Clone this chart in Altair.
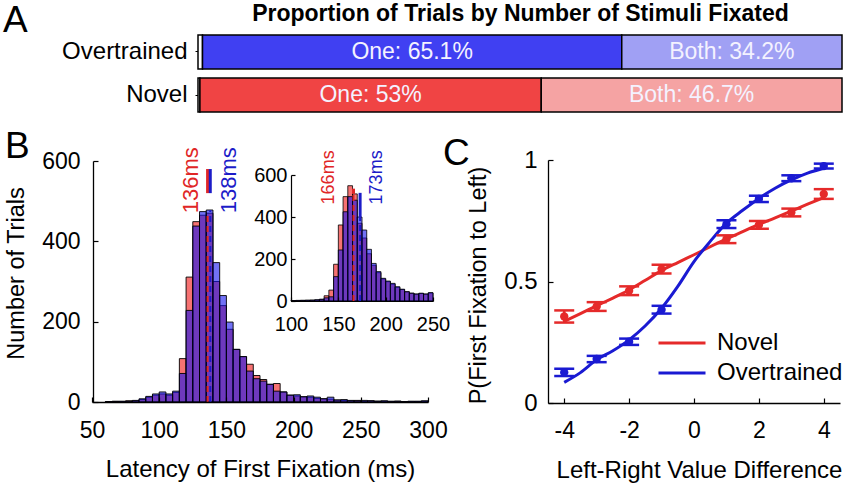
import altair as alt
import pandas as pd

W, H = 843, 486
FONT = "Liberation Sans"
RED = "#e02626"
BLUE = "#1c1cc8"

# ---------------- Panel A: proportions ----------------
groups = ["Overtrained", "Novel"]
segments = ["None", "One", "Both"]
overtrained_pct = [0.7, 65.1, 34.2]
novel_pct = [0.3, 53.0, 46.7]
overtrained_text = ["", "One: 65.1%", "Both: 34.2%"]
novel_text = ["", "One: 53%", "Both: 46.7%"]
seg_colors = ["#ffffff", "#4040f2", "#a0a0f4", "#ffffff", "#f04444", "#f5a3a3"]

# ---------------- Panel B: latency histograms ----------------
main_bin_starts = list(range(60, 300, 5))
novel_main = [1, 2, 1, 3, 3, 6, 12, 17, 20, 17, 24, 108, 311, 449, 465, 470, 300, 240,
              181, 131, 113, 94, 66, 56, 44, 46, 25, 17, 15, 13, 12, 9, 8, 7, 5, 4, 3,
              4, 2, 3, 2, 2, 1, 2, 1, 1, 1, 2]
overtrained_main = [1, 1, 2, 2, 4, 8, 14, 20, 25, 20, 27, 71, 228, 438, 474, 478, 347,
                    265, 199, 131, 113, 77, 58, 52, 44, 27, 25, 17, 18, 13, 15, 12, 8,
                    12, 5, 6, 4, 3, 4, 3, 2, 3, 2, 2, 1, 2, 2, 3]
inset_bin_starts = list(range(100, 250, 5))
novel_inset = [2, 2, 3, 3, 4, 5, 8, 25, 52, 175, 362, 497, 549, 510, 370, 300, 225, 170,
               135, 105, 92, 80, 65, 55, 44, 37, 33, 36, 33, 38]
overtrained_inset = [2, 3, 3, 4, 4, 6, 8, 15, 20, 116, 243, 425, 497, 480, 400, 338, 246,
                     179, 140, 108, 95, 84, 68, 56, 44, 37, 33, 37, 33, 40]
conditions = ["Novel", "Overtrained"]
main_medians = [136, 138]
main_marker_lo = [520, 520]
main_marker_hi = [580, 580]
inset_medians = [166, 173]
inset_marker_lo = [510, 400]
inset_marker_hi = [535, 515]

# ---------------- Panel C: choice curves ----------------
value_diff = [-4, -3, -2, -1, 1, 2, 3, 4]
novel_p = [0.356, 0.397, 0.462, 0.551, 0.674, 0.733, 0.784, 0.860]
novel_se = [0.025, 0.018, 0.018, 0.018, 0.016, 0.016, 0.016, 0.020]
overtrained_p = [0.126, 0.181, 0.252, 0.384, 0.736, 0.840, 0.925, 0.975]
overtrained_se = [0.015, 0.013, 0.013, 0.016, 0.016, 0.013, 0.012, 0.010]
fit_x = [-4, -3.5, -3, -2.5, -2, -1.5, -1, -0.5, 0, 0.5, 1, 1.5, 2, 2.5, 3, 3.5, 4]
novel_fit = [0.336, 0.368, 0.400, 0.432, 0.465, 0.505, 0.545, 0.578, 0.610, 0.643,
             0.675, 0.705, 0.735, 0.762, 0.790, 0.818, 0.845]
overtrained_fit = [0.085, 0.125, 0.178, 0.215, 0.260, 0.318, 0.390, 0.480, 0.582, 0.665,
                   0.740, 0.793, 0.842, 0.884, 0.918, 0.946, 0.966]

AX = dict(grid=False, labelFont=FONT, labelColor="black", titleFont=FONT, titleColor="black",
          titleFontWeight="normal", labelFlush=False, labelOverlap=False,
          domainColor="black", tickColor="black", zindex=1)


def tick_axis(orient, offset, values, size):
    return alt.Axis(orient=orient, offset=offset, values=values, labels=False, domain=False,
                    ticks=True, tickSize=size, tickWidth=1.2, tickColor="black", title=None,
                    grid=False, zindex=1)


# ---------- Panel A ----------
rowsA = []
for g, pcts, texts in [("Overtrained", overtrained_pct, overtrained_text),
                       ("Novel", novel_pct, novel_text)]:
    start = 0.0
    for s, p, t in zip(segments, pcts, texts):
        rowsA.append(dict(group=g, seg=f"{g} {s}", start=start, end=start + p,
                          mid=start + p / 2, text=t))
        start += p
dfA = pd.DataFrame(rowsA)
seg_domain = [f"{g} {s}" for g in groups for s in segments]

sxA = alt.Scale(domain=[0, 100], range=[198, 842], nice=False, zero=False)
syA = alt.Scale(domain=groups, range=[35, 112], paddingInner=0.21, paddingOuter=0)
barsA = alt.Chart(dfA).mark_bar(stroke="black", strokeWidth=1.5, opacity=1).encode(
    x=alt.X("start:Q", scale=sxA, axis=alt.Axis(
        orient="top", offset=-35, title="Proportion of Trials by Number of Stimuli Fixated",
        titleFont=FONT, titleFontSize=23, titleFontWeight="bold", titleColor="black",
        titlePadding=10, labels=False, ticks=False, domain=False, grid=False)),
    x2="end:Q",
    y=alt.Y("group:N", scale=syA, axis=alt.Axis(
        orient="left", offset=-198, title=None, labelFont=FONT, labelFontSize=24,
        labelColor="black", labelPadding=8, ticks=True, tickSize=3, tickColor="black",
        domain=False, grid=False)),
    color=alt.Color("seg:N", scale=alt.Scale(domain=seg_domain, range=seg_colors), legend=None),
)
textA = alt.Chart(dfA).mark_text(font=FONT, fontSize=23, color="#f4f2ff").encode(
    x=alt.X("mid:Q", scale=sxA, axis=None),
    y=alt.Y("group:N", scale=syA, axis=None),
    text="text:N",
)
panelA = alt.layer(barsA, textA).resolve_axis(x="independent", y="independent")


# ---------- histogram helper ----------
def hist_frame(starts, counts):
    return pd.DataFrame({"start": starts, "end": [s + 5 for s in starts], "count": counts,
                         "base": [0] * len(starts)})


def med_frame(meds, starts, count_lists, lo, hi, label_y):
    tops = [cnts[starts.index(m // 5 * 5)] for m, cnts in zip(meds, count_lists)]
    return pd.DataFrame({"ms": meds, "cond": conditions, "top": tops, "base": [0, 0],
                         "lo": lo, "hi": hi, "label": [f"{m}ms" for m in meds],
                         "label_y": [label_y, label_y]})


colB = alt.Scale(domain=conditions, range=[RED, BLUE])
txtB = alt.Scale(domain=conditions, range=["#dc2b2b", "#2424b0"])


def histogram_panel(starts, nov, ovr, sx, sy, main_x_axis, main_y_axis, tx_axis, ty_axis,
                    medf, text_size, dys, stroke_w):
    red = alt.Chart(hist_frame(starts, nov)).mark_bar(
        color="#f01414", fillOpacity=0.6, stroke="black", strokeWidth=stroke_w).encode(
        x=alt.X("start:Q", scale=sx, axis=main_x_axis), x2="end:Q",
        y=alt.Y("count:Q", scale=sy, axis=main_y_axis), y2="base:Q")
    blue = alt.Chart(hist_frame(starts, ovr)).mark_bar(
        color="#1414f0", fillOpacity=0.6, stroke="black", strokeWidth=stroke_w).encode(
        x=alt.X("start:Q", scale=sx, axis=tx_axis), x2="end:Q",
        y=alt.Y("count:Q", scale=sy, axis=ty_axis), y2="base:Q")
    dashed = alt.Chart(medf).mark_rule(strokeDash=[6, 4], strokeWidth=2).encode(
        x=alt.X("ms:Q", scale=sx, axis=None),
        y=alt.Y("base:Q", scale=sy, axis=None), y2="top:Q",
        color=alt.Color("cond:N", scale=colB, legend=None))
    solid = alt.Chart(medf).mark_rule(strokeWidth=3).encode(
        x=alt.X("ms:Q", scale=sx, axis=None),
        y=alt.Y("lo:Q", scale=sy, axis=None), y2="hi:Q",
        color=alt.Color("cond:N", scale=colB, legend=None))
    texts = []
    for cond, dy in zip(conditions, dys):
        texts.append(alt.Chart(medf).transform_filter(alt.datum.cond == cond).mark_text(
            angle=270, align="left", baseline="middle", dy=dy, font=FONT,
            fontSize=text_size).encode(
            x=alt.X("ms:Q", scale=sx, axis=None),
            y=alt.Y("label_y:Q", scale=sy, axis=None),
            text="label:N",
            color=alt.Color("cond:N", scale=txtB, legend=None)))
    return alt.layer(red, blue, dashed, solid, *texts).resolve_axis(x="independent", y="independent")


# ---------- Panel B main ----------
sxB = alt.Scale(domain=[50, 300], range=[92, 428], nice=False, zero=False)
syB = alt.Scale(domain=[0, 600], range=[402, 161], nice=False, zero=True)
bx_vals = [50, 100, 150, 200, 250, 300]
by_vals = [0, 200, 400, 600]
bx_axis = alt.Axis(orient="bottom", offset=402 - H, values=bx_vals, ticks=False, tickSize=0,
                   labelFontSize=23, labelPadding=35, labelBaseline="alphabetic", domainWidth=1.3,
                   title="Latency of First Fixation (ms)", titleFontSize=24, titleX=260, titleY=74,
                   titleBaseline="alphabetic", titleAlign="center", **AX)
by_axis = alt.Axis(orient="left", offset=-93, values=by_vals, ticks=False, tickSize=0,
                   labelFontSize=23, labelPadding=13, domainWidth=1.3, title="Number of Trials",
                   titleFontSize=23.5, titleAngle=270, titleX=23 - 93, titleY=273,
                   titleBaseline="alphabetic", titleAlign="center", **AX)
medB = med_frame(main_medians, main_bin_starts, [novel_main, overtrained_main],
                 main_marker_lo, main_marker_hi, 470)
panelB = histogram_panel(main_bin_starts, novel_main, overtrained_main, sxB, syB, bx_axis, by_axis,
                         tick_axis("top", -402, bx_vals, 5), tick_axis("right", 93 - W, by_vals, 5),
                         medB, 22, [-17, 19], 0.9)

# ---------- Panel B inset ----------
sxI = alt.Scale(domain=[100, 250], range=[291, 433], nice=False, zero=False)
syI = alt.Scale(domain=[0, 600], range=[301, 175], nice=False, zero=True)
ix_vals = [100, 150, 200, 250]
iy_vals = [0, 200, 400, 600]
ix_axis = alt.Axis(orient="bottom", offset=301 - H, values=ix_vals, ticks=False, tickSize=0,
                   labelFontSize=20, labelPadding=29, labelBaseline="alphabetic", domainWidth=1.2,
                   title=None, **AX)
iy_axis = alt.Axis(orient="left", offset=-291, values=iy_vals, ticks=False, tickSize=0,
                   labelFontSize=20, labelPadding=4, domainWidth=1.2, title=None, **AX)
medI = med_frame(inset_medians, inset_bin_starts, [novel_inset, overtrained_inset],
                 inset_marker_lo, inset_marker_hi, 460)
panelI = histogram_panel(inset_bin_starts, novel_inset, overtrained_inset, sxI, syI, ix_axis, iy_axis,
                         tick_axis("top", -301, ix_vals, 4), tick_axis("right", 291 - W, iy_vals, 4),
                         medI, 18, [-24, 17], 0.8)

# ---------- Panel C ----------
dfC = pd.DataFrame({
    "x": value_diff * 2,
    "p": novel_p + overtrained_p,
    "lo": [p - s for p, s in zip(novel_p + overtrained_p, novel_se + overtrained_se)],
    "hi": [p + s for p, s in zip(novel_p + overtrained_p, novel_se + overtrained_se)],
    "cond": ["Novel"] * len(value_diff) + ["Overtrained"] * len(value_diff),
})
dfFit = pd.DataFrame({
    "x": fit_x * 2,
    "p": novel_fit + overtrained_fit,
    "cond": ["Novel"] * len(fit_x) + ["Overtrained"] * len(fit_x),
})
sxC = alt.Scale(domain=[-4.5, 4.5], range=[548, 840], nice=False, zero=False)
syC = alt.Scale(domain=[0, 1], range=[403, 160], nice=False, zero=False)
colC = alt.Scale(domain=conditions, range=["#e52a2a", "#1a1ad2"])
cx_vals = [-4, -2, 0, 2, 4]
cy_vals = [0, 0.5, 1]
cx_axis = alt.Axis(orient="bottom", offset=403 - H, values=cx_vals, ticks=False, tickSize=0,
                   labelFontSize=23, labelPadding=34, labelBaseline="alphabetic",
                   labelExpr="'' + datum.value", domainWidth=1.3,
                   title="Left-Right Value Difference", titleFontSize=24, titleX=699, titleY=74,
                   titleBaseline="alphabetic", titleAlign="center", **AX)
cy_axis = alt.Axis(orient="left", offset=-548, values=cy_vals, ticks=False, tickSize=0,
                   labelFontSize=24, labelPadding=11, labelExpr="'' + datum.value",
                   domainWidth=1.3, title="P(First Fixation to Left)", titleFontSize=23.5,
                   titleAngle=270, titleX=485 - 548, titleY=285, titleBaseline="alphabetic",
                   titleAlign="center", **AX)
legC = alt.Legend(orient="none", legendX=657, legendY=328, title=None, symbolType="stroke",
                  symbolSize=2209, symbolStrokeWidth=3, labelFont=FONT, labelFontSize=24,
                  labelColor="black", labelOffset=10, clipHeight=30, rowPadding=0, padding=0)

fitC = alt.Chart(dfFit).mark_line(strokeWidth=3, interpolate="monotone").encode(
    x=alt.X("x:Q", scale=sxC, axis=cx_axis),
    y=alt.Y("p:Q", scale=syC, axis=cy_axis),
    color=alt.Color("cond:N", scale=colC, legend=legC))
errC = alt.Chart(dfC).mark_rule(strokeWidth=2.5).encode(
    x=alt.X("x:Q", scale=sxC, axis=tick_axis("top", -403, cx_vals, 5)),
    y=alt.Y("lo:Q", scale=syC, axis=tick_axis("right", 548 - W, cy_vals, 5)), y2="hi:Q",
    color=alt.Color("cond:N", scale=colC, legend=None))
capLo = alt.Chart(dfC).mark_tick(orient="horizontal", size=20, thickness=2.5, opacity=1).encode(
    x=alt.X("x:Q", scale=sxC, axis=None), y=alt.Y("lo:Q", scale=syC, axis=None),
    color=alt.Color("cond:N", scale=colC, legend=None))
capHi = alt.Chart(dfC).mark_tick(orient="horizontal", size=20, thickness=2.5, opacity=1).encode(
    x=alt.X("x:Q", scale=sxC, axis=None), y=alt.Y("hi:Q", scale=syC, axis=None),
    color=alt.Color("cond:N", scale=colC, legend=None))
ptsC = alt.Chart(dfC).mark_circle(size=70, opacity=1).encode(
    x=alt.X("x:Q", scale=sxC, axis=None), y=alt.Y("p:Q", scale=syC, axis=None),
    color=alt.Color("cond:N", scale=colC, legend=None))
panelC = alt.layer(fitC, errC, capLo, capHi, ptsC).resolve_axis(x="independent", y="independent")


# ---------- panel letters ----------
def letter(t, x, y):
    return alt.Chart(pd.DataFrame({"k": [0]})).mark_text(
        text=t, font=FONT, fontSize=37, align="left", baseline="alphabetic", color="black"
    ).encode(x=alt.value(x), y=alt.value(y))


chart = alt.layer(
    panelA, panelB, panelI, panelC,
    letter("A", 3, 32), letter("B", 5, 158), letter("C", 443, 165),
).resolve_scale(
    x="independent", y="independent", color="independent"
).properties(
    width=W, height=H, padding=0, autosize=alt.AutoSizeParams(type="none")
).configure_view(stroke=None)

chart.save("out.html", embed_options={"renderer": "svg", "actions": False})
